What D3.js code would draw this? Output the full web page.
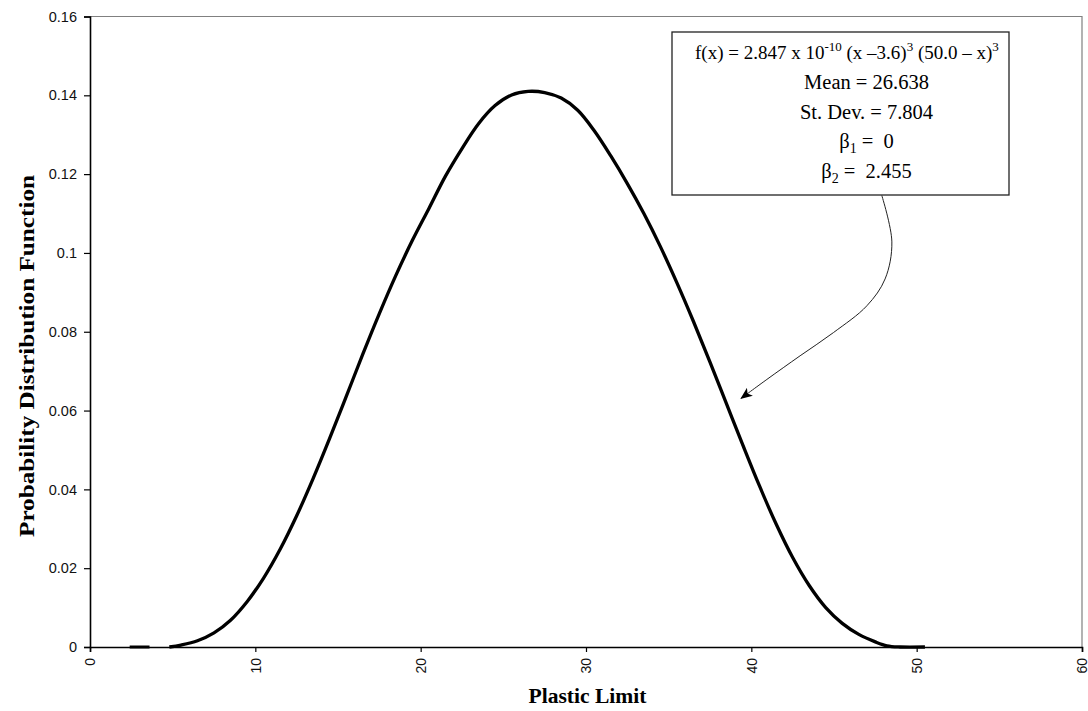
<!DOCTYPE html>
<html>
<head>
<meta charset="utf-8">
<script src="https://cdn.jsdelivr.net/npm/d3@7/dist/d3.min.js"></script>
<style>
  html, body { margin: 0; padding: 0; background: #fff; }
  svg { display: block; }
  text { white-space: pre; }
</style>
</head>
<body>
<svg id="chart" width="1088" height="711"></svg>
<script>
// Fitted probability density of the plastic limit
const pdfX = [4.8, 5.5, 6.5, 7.5, 8.5, 9.5, 10.5, 11.5, 12.5, 13.5, 14.5, 15.5, 16.5, 17.5, 18.5, 19.5,
              20.5, 21.5, 22.5, 23.5, 24.5, 25.5, 26.5, 27.5, 28.5, 29.5, 30.5, 31.5, 32.5, 33.5,
              34.5, 35.5, 36.5, 37.5, 38.5, 39.5, 40.5, 41.5, 42.5, 43.5, 44.5, 45.5, 46.5, 47.5,
              48.2, 49.0, 50.5];
const pdfY = [0, 0.0005, 0.0016, 0.0036, 0.0068, 0.0115, 0.0175, 0.0248, 0.0333, 0.0428, 0.053, 0.0636, 0.0743, 0.0846, 0.0943, 0.1032,
              0.1113, 0.1195, 0.1265, 0.1328, 0.1374, 0.1401, 0.141, 0.1407, 0.1393, 0.1362, 0.131, 0.1246, 0.1176, 0.11,
              0.1016, 0.0924, 0.0826, 0.0723, 0.0617, 0.0511, 0.0408, 0.0312, 0.0227, 0.0156, 0.01, 0.006, 0.0032, 0.0013,
              0.0003, 0, 0];

// short zero segment left of the lower bound
const baseX = [2.4, 3.6];
const baseY = [0, 0];

const xTicks = [0, 10, 20, 30, 40, 50, 60];
const yTicks = [0, 0.02, 0.04, 0.06, 0.08, 0.1, 0.12, 0.14, 0.16];
const yTickLabels = ["0", "0.02", "0.04", "0.06", "0.08", "0.1", "0.12", "0.14", "0.16"];

// callout arrow path, in data units
const arrowX = [47.89, 48.5, 48.09, 46.99, 44.97, 42.95, 40.94, 39.38];
const arrowY = [0.1146, 0.1028, 0.0934, 0.0866, 0.0798, 0.0739, 0.0679, 0.0631];

const svg = d3.select("#chart");
const plotLeft = 90, plotRight = 1082, plotTop = 16.5, plotBottom = 647;

const x = d3.scaleLinear().domain([0, 60]).range([plotLeft, plotRight]);
const y = d3.scaleLinear().domain([0, 0.16]).range([plotBottom, plotTop]);

// plot frame: grey top/right
svg.append("path")
  .attr("d", `M${plotLeft},${plotTop}H${plotRight}V${plotBottom}`)
  .attr("fill", "none").attr("stroke", "#808080").attr("stroke-width", 1.2);

// y axis
const yAxis = svg.append("g")
  .attr("transform", `translate(${plotLeft},0)`)
  .call(d3.axisLeft(y).tickValues(yTicks).tickSize(6).tickPadding(7)
        .tickFormat((d, i) => yTickLabels[i]));
yAxis.select(".domain").attr("stroke", "#000").attr("stroke-width", 1.6);
yAxis.selectAll(".tick line").attr("stroke", "#000").attr("stroke-width", 1.2);
yAxis.selectAll("text").attr("font-family", "'Liberation Sans', Arial, sans-serif")
  .attr("font-size", 14.5).attr("fill", "#111");

// x axis
const xAxis = svg.append("g")
  .attr("transform", `translate(0,${plotBottom})`)
  .call(d3.axisBottom(x).tickValues(xTicks).tickSize(5).tickFormat(d3.format("d")));
xAxis.select(".domain").attr("stroke", "#000").attr("stroke-width", 1.6);
xAxis.selectAll(".tick line").attr("stroke", "#000").attr("stroke-width", 1.2);
xAxis.selectAll("text")
  .attr("font-family", "'Liberation Sans', Arial, sans-serif")
  .attr("font-size", 14).attr("fill", "#111")
  .attr("transform", "rotate(-90)")
  .attr("text-anchor", "end")
  .attr("x", -11).attr("y", 0).attr("dy", "0.35em");

// axis titles
svg.append("text")
  .attr("x", (plotLeft + 1083) / 2 + 1).attr("y", 703)
  .attr("text-anchor", "middle")
  .attr("font-family", "'Liberation Serif', 'Times New Roman', serif")
  .attr("font-weight", "bold").attr("font-size", 20)
  .attr("textLength", 118).attr("lengthAdjust", "spacingAndGlyphs")
  .text("Plastic Limit");

svg.append("text")
  .attr("transform", "translate(34,356) rotate(-90)")
  .attr("text-anchor", "middle")
  .attr("font-family", "'Liberation Serif', 'Times New Roman', serif")
  .attr("font-weight", "bold").attr("font-size", 20)
  .attr("textLength", 362).attr("lengthAdjust", "spacingAndGlyphs")
  .text("Probability Distribution Function");

// density curve
const line = d3.line().x(d => x(d[0])).y(d => y(d[1])).curve(d3.curveCatmullRom.alpha(0.5));
svg.append("path")
  .datum(baseX.map((v, i) => [v, baseY[i]]))
  .attr("d", line).attr("fill", "none").attr("stroke", "#000").attr("stroke-width", 3);
svg.append("path")
  .datum(pdfX.map((v, i) => [v, pdfY[i]]))
  .attr("d", line).attr("fill", "none").attr("stroke", "#000")
  .attr("stroke-width", 3.3).attr("stroke-linejoin", "round");

// callout box
const box = { x: 672, y: 32, w: 337, h: 163 };
svg.append("rect")
  .attr("x", box.x).attr("y", box.y).attr("width", box.w).attr("height", box.h)
  .attr("fill", "#fff").attr("stroke", "#222").attr("stroke-width", 1.3);

const serif = "'Liberation Serif', 'Times New Roman', serif";
const tb = svg.append("g").attr("font-family", serif).attr("font-size", 20.5).attr("fill", "#000");

const l1 = tb.append("text").attr("x", 695).attr("y", 59).attr("font-size", 19);
l1.append("tspan").text("f(x) = 2.847 x 10");
l1.append("tspan").attr("dy", -8).attr("font-size", 13).text("-10");
l1.append("tspan").attr("dy", 8).text(" (x \u20133.6)");
l1.append("tspan").attr("dy", -8).attr("font-size", 13).text("3");
l1.append("tspan").attr("dy", 8).text(" (50.0 \u2013 x)");
l1.append("tspan").attr("dy", -8).attr("font-size", 13).text("3");

const cx = 866.5;
tb.append("text").attr("x", cx).attr("y", 89).attr("text-anchor", "middle").text("Mean = 26.638");
tb.append("text").attr("x", cx).attr("y", 119).attr("text-anchor", "middle").text("St. Dev. = 7.804");

const b1 = tb.append("text").attr("x", cx).attr("y", 148).attr("text-anchor", "middle");
b1.append("tspan").text("\u03B2");
b1.append("tspan").attr("dy", 5).attr("font-size", 14).text("1");
b1.append("tspan").attr("dy", -5).text(" =  0");

const b2 = tb.append("text").attr("x", cx).attr("y", 178).attr("text-anchor", "middle");
b2.append("tspan").text("\u03B2");
b2.append("tspan").attr("dy", 5).attr("font-size", 14).text("2");
b2.append("tspan").attr("dy", -5).text(" =  2.455");

// arrow from box to curve
svg.append("defs").append("marker")
  .attr("id", "head").attr("viewBox", "0 0 12 10").attr("refX", 11).attr("refY", 5)
  .attr("markerWidth", 12).attr("markerHeight", 10).attr("markerUnits", "userSpaceOnUse")
  .attr("orient", "auto")
  .append("path").attr("d", "M0,0L12,5L0,10L3,5Z").attr("fill", "#000");

svg.append("path")
  .datum(arrowX.map((v, i) => [v, arrowY[i]]))
  .attr("d", d3.line().x(d => x(d[0])).y(d => y(d[1])).curve(d3.curveCatmullRom))
  .attr("fill", "none").attr("stroke", "#222").attr("stroke-width", 1)
  .attr("marker-end", "url(#head)");
</script>
</body>
</html>
